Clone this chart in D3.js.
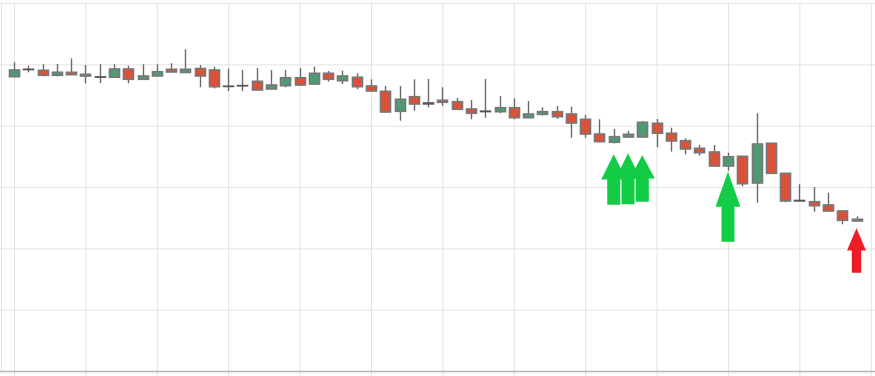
<!DOCTYPE html>
<html>
<head>
<meta charset="utf-8">
<script src="https://cdn.jsdelivr.net/npm/d3@7"></script>
<style>
  body { margin: 0; background: #fff; }
  svg { display: block; }
</style>
</head>
<body>
<div class="chart"></div>
<script>

// price data, one entry per trading day
var opens  = [87.98,89.15,89.03,88.21,88.70,88.37,87.95,87.89,89.24,87.56,
              88.10,89.19,88.67,89.32,89.08,86.43,86.53,87.23,85.98,86.52,
              87.82,86.79,88.54,87.33,87.89,86.47,85.60,82.34,84.72,83.70,
              84.14,83.91,82.72,82.30,82.28,82.93,81.30,81.85,82.28,81.90,
              81.04,78.64,77.29,78.15,78.15,80.39,78.76,77.55,76.31,75.71,
              73.42,75.00,70.65,77.13,72.23,67.80,67.60,67.07,66.09,64.73];
var highs  = [90.33,89.78,90.01,90.06,90.98,89.89,90.01,90.01,89.78,90.01,
              90.01,90.17,92.45,89.89,89.61,89.29,89.08,89.40,89.08,89.08,
              89.40,89.61,88.91,88.96,88.54,87.56,86.47,86.47,87.56,87.61,
              86.26,84.51,84.19,87.61,84.84,84.46,84.02,82.99,83.21,83.09,
              81.74,81.04,79.46,79.13,80.76,81.09,79.67,77.94,76.85,76.85,
              75.59,75.00,82.02,77.13,72.23,70.44,70.00,69.07,66.20,65.22];
var lows   = [87.90,88.70,88.05,88.05,88.26,86.91,86.91,87.89,86.91,87.56,
              88.10,88.75,88.67,86.26,86.06,85.65,85.65,85.82,85.98,86.26,
              86.47,86.79,87.17,86.79,85.93,85.65,82.11,80.81,82.44,82.99,
              83.21,82.55,81.04,81.30,82.02,81.04,81.30,81.63,81.09,78.04,
              78.04,77.39,77.12,78.04,78.15,76.47,75.76,75.33,75.10,73.31,
              72.66,70.11,67.44,72.23,67.51,67.67,65.97,65.97,63.92,64.46];
var closes = [89.08,89.19,88.21,88.70,88.31,88.10,87.92,89.24,87.56,88.10,
              88.80,88.75,89.19,88.10,86.35,86.40,86.50,85.82,86.63,87.82,
              86.63,88.54,87.56,88.10,86.35,85.65,82.23,84.30,83.53,83.55,
              83.81,82.67,82.02,82.36,82.93,81.30,81.90,82.28,81.46,80.43,
              78.64,77.39,78.20,78.59,80.55,78.76,77.50,76.20,75.59,73.42,
              74.94,70.54,77.01,72.23,67.72,67.73,66.95,66.09,64.57,64.46];

var xGridTicks = [0,5,10,15,20,25,30,35,40,45,50,55,60];
var yGridTicks = [40,50,60,70,80,90,100];

// signal arrows: candle index, tip price, tail price
var arrowIndex = [42,43,44,50,59];
var arrowTip   = [75.33,75.49,75.17,72.49,63.27];
var arrowTail  = [67.09,67.19,67.58,61.08,56.03];
var arrowKind  = ['buy','buy','buy','buy','sell'];

var width = 875,
  height = 376;

var svg = d3.select('.chart')
  .append('svg')
  .attr('width', width)
  .attr('height', height);

var xScale = d3.scaleLinear()
  .domain([0, 59])
  .range([14, 856.5]);

var yScale = d3.scaleLinear()
  .domain([40, 100])
  .range([371, 3]);

//GRID
var xGrid = d3.axisBottom(xScale)
  .tickValues(xGridTicks)
  .tickSize(373)
  .tickFormat('');

svg.append('g')
  .attr('class', 'xGrid')
  .attr('transform', 'translate(0,3)')
  .call(xGrid)
  .call(function(g){ g.select('.domain').remove(); })
  .selectAll('line')
  .attr('stroke', '#e3e3e3');

var yGrid = d3.axisLeft(yScale)
  .tickValues(yGridTicks)
  .tickSize(-width)
  .tickFormat('');

svg.append('g')
  .attr('class', 'yGrid')
  .attr('transform', 'translate(0,0)')
  .call(yGrid)
  .call(function(g){ g.select('.domain').remove(); })
  .selectAll('line')
  .attr('stroke', '#e3e3e3');

// left frame + bottom axis line
svg.append('line')
  .attr('x1', 1.5).attr('x2', 1.5)
  .attr('y1', yScale(100)).attr('y2', yScale(40))
  .attr('stroke', '#e0e0e0');

svg.append('line')
  .attr('x1', 0).attr('x2', width)
  .attr('y1', yScale(40) + 0.5).attr('y2', yScale(40) + 0.5)
  .attr('stroke', '#b4b4b4')
  .attr('stroke-width', 1.5);

//CANDLES
var data = opens.map(function(o, i){
  return { i: i, open: o, high: highs[i], low: lows[i], close: closes[i] };
});

var candles = svg.selectAll('.candle')
  .data(data)
  .enter()
  .append('g')
  .attr('class', 'candle');

candles.append('line')
  .attr('x1', function(d){ return Math.round(xScale(d.i)) + 0.5; })
  .attr('x2', function(d){ return Math.round(xScale(d.i)) + 0.5; })
  .attr('y1', function(d){ return yScale(d.high); })
  .attr('y2', function(d){ return yScale(d.low); })
  .attr('stroke', '#6a6a6a')
  .attr('stroke-width', 1.4);

candles.append('rect')
  .attr('x', function(d){ return Math.round(xScale(d.i)) + 0.5 - 5; })
  .attr('y', function(d){ return yScale(Math.max(d.open, d.close)); })
  .attr('width', 10)
  .attr('height', function(d){ return Math.abs(yScale(d.open) - yScale(d.close)); })
  .attr('fill', function(d){ return d.close >= d.open ? '#4f9a73' : '#dc5238'; })
  .attr('stroke', function(d){
    return Math.abs(yScale(d.open) - yScale(d.close)) < 1.5 ? '#555' : '#777';
  })
  .attr('stroke-width', 1.6);

//ARROWS
function arrowPath(k){
  var cx = xScale(arrowIndex[k]),
    tip = yScale(arrowTip[k]),
    tail = yScale(arrowTail[k]),
    base = tip + (tail - tip) / 2,
    hw = arrowKind[k] == 'buy' ? 12.5 : 9.5, // half head width
    sw = arrowKind[k] == 'buy' ? 6.5 : 4.7;  // half shaft width
  var p = d3.path();
  p.moveTo(cx, tip);
  p.lineTo(cx + hw, base);
  p.lineTo(cx + sw, base);
  p.lineTo(cx + sw, tail);
  p.lineTo(cx - sw, tail);
  p.lineTo(cx - sw, base);
  p.lineTo(cx - hw, base);
  p.closePath();
  return p.toString();
}

svg.selectAll('.arrow')
  .data(arrowIndex.map(function(d, k){ return k; }))
  .enter()
  .append('path')
  .attr('class', 'arrow')
  .attr('d', arrowPath)
  .attr('fill', function(k){ return arrowKind[k] == 'buy' ? '#12cc46' : '#ee1c25'; });

</script>
</body>
</html>
